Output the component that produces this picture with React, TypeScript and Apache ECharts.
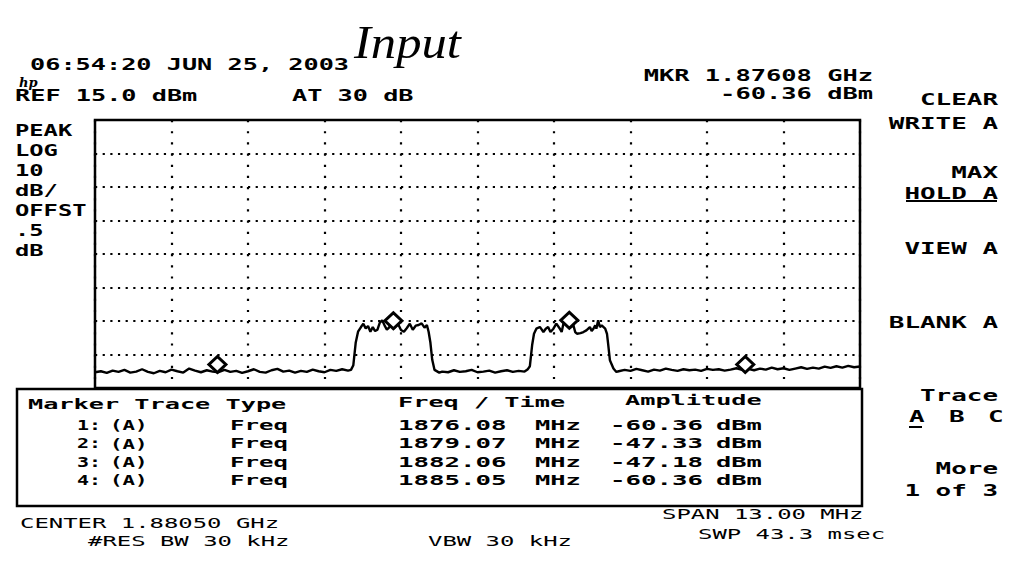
import React, { useEffect, useRef } from "react";
import * as echarts from "echarts";

// ---- instrument settings ----
const START_MHZ = 1874.0;
const SPAN_MHZ = 13.0;
const REF_DBM = 15.0;
const DB_PER_DIV = 10;
const Y_DIVS = 8;
const X_DIVS = 10;

// ---- trace (frequency MHz, level dBm) ----
const noiseLeft: [number, number][] = [
  [1874.0, -60.3], [1874.1, -60.0], [1874.2, -60.5], [1874.3, -59.8], [1874.4, -60.2],
  [1874.5, -59.6], [1874.6, -60.4], [1874.7, -60.1], [1874.8, -59.4], [1874.9, -60.2],
  [1875.0, -60.6], [1875.1, -59.9], [1875.2, -60.3], [1875.3, -59.5], [1875.4, -60.0],
  [1875.5, -60.4], [1875.6, -59.2], [1875.7, -59.8], [1875.8, -60.3], [1875.9, -59.7],
  [1876.0, -60.1], [1876.1, -60.3], [1876.2, -59.6], [1876.3, -60.2], [1876.4, -59.9],
  [1876.5, -60.5], [1876.6, -60.0], [1876.7, -59.4], [1876.8, -60.2], [1876.9, -60.4],
  [1877.0, -59.7], [1877.1, -59.3], [1877.2, -60.1], [1877.3, -59.8], [1877.4, -60.4],
  [1877.5, -59.9], [1877.6, -60.2], [1877.7, -59.5], [1877.8, -60.0], [1877.9, -60.3],
  [1878.0, -59.6], [1878.1, -59.9], [1878.2, -59.4], [1878.3, -59.8],
];
const channel1: [number, number][] = [
  [1878.35, -59.6], [1878.39, -58.2], [1878.43, -51.5], [1878.47, -48.2], [1878.52, -46.8],
  [1878.56, -45.8], [1878.60, -47.2], [1878.64, -46.5], [1878.68, -48.2], [1878.72, -46.8],
  [1878.76, -48.0], [1878.80, -47.6], [1878.84, -45.5], [1878.88, -44.8], [1878.92, -46.3],
  [1878.96, -47.6], [1879.00, -46.9], [1879.04, -45.5], [1879.07, -47.3], [1879.10, -46.8],
  [1879.15, -45.9], [1879.20, -47.7], [1879.25, -48.2], [1879.30, -47.1], [1879.35, -45.8],
  [1879.40, -47.6], [1879.45, -46.4], [1879.50, -46.2], [1879.55, -45.7], [1879.60, -47.0],
  [1879.64, -46.2], [1879.67, -48.3], [1879.70, -51.5], [1879.73, -56.5], [1879.77, -59.6],
];
const noiseMid: [number, number][] = [
  [1879.85, -60.4], [1879.9, -60.1], [1880.0, -60.3], [1880.1, -59.7], [1880.2, -60.2],
  [1880.3, -60.0], [1880.4, -59.6], [1880.5, -60.3], [1880.6, -60.1], [1880.7, -59.8],
  [1880.8, -60.4], [1880.9, -60.0], [1881.0, -59.7], [1881.1, -60.2], [1881.2, -59.9],
  [1881.3, -60.1], [1881.35, -59.5],
];
const channel2: [number, number][] = [
  [1881.39, -58.5], [1881.43, -52.0], [1881.46, -48.8], [1881.50, -47.3], [1881.56, -46.8],
  [1881.59, -47.5], [1881.62, -48.3], [1881.66, -47.3], [1881.70, -46.8], [1881.74, -48.3],
  [1881.79, -47.3], [1881.84, -45.8], [1881.90, -47.3], [1881.93, -48.3], [1881.96, -45.8],
  [1882.02, -45.2], [1882.06, -47.2], [1882.13, -46.3], [1882.16, -48.3], [1882.19, -48.8],
  [1882.25, -48.6], [1882.30, -48.3], [1882.35, -47.8], [1882.41, -46.8], [1882.44, -48.0],
  [1882.47, -47.3], [1882.50, -46.3], [1882.52, -47.3], [1882.55, -44.8], [1882.58, -46.8],
  [1882.61, -46.3], [1882.67, -47.3], [1882.70, -48.8], [1882.72, -51.8], [1882.75, -56.7],
  [1882.81, -59.2], [1882.86, -60.2],
];
const noiseRight: [number, number][] = [
  [1882.9, -60.0], [1883.0, -59.6], [1883.1, -59.9], [1883.2, -59.3], [1883.3, -59.7],
  [1883.4, -60.1], [1883.5, -59.5], [1883.6, -59.8], [1883.7, -59.2], [1883.8, -59.6],
  [1883.9, -59.9], [1884.0, -59.4], [1884.1, -59.7], [1884.2, -59.5], [1884.3, -59.9],
  [1884.4, -59.3], [1884.5, -59.6], [1884.6, -59.4], [1884.7, -59.8], [1884.8, -59.5],
  [1884.9, -59.1], [1885.0, -59.6], [1885.1, -59.3], [1885.2, -59.7], [1885.3, -59.2],
  [1885.4, -59.5], [1885.5, -58.9], [1885.6, -59.4], [1885.7, -59.1], [1885.8, -59.6],
  [1885.9, -59.2], [1886.0, -58.8], [1886.1, -59.3], [1886.2, -58.9], [1886.3, -59.2],
  [1886.4, -58.6], [1886.5, -59.0], [1886.6, -58.5], [1886.7, -58.9], [1886.8, -58.4],
  [1886.9, -58.8], [1887.0, -58.6],
];

// ---- markers ----
const markerFreqs = [1876.08, 1879.07, 1882.06, 1885.05];
const markerAmps = [-60.36, -47.33, -47.18, -60.36];

// ---- annotation texts ----
const leftLabels = ["PEAK", "LOG", "10", "dB/", "OFFST", ".5", "dB"];
const menuItems: { text: string; y: number; underline?: boolean }[] = [
  { text: "CLEAR", y: 100 },
  { text: "WRITE A", y: 124 },
  { text: "MAX", y: 173 },
  { text: "HOLD A", y: 194, underline: true },
  { text: "VIEW A", y: 249 },
  { text: "BLANK A", y: 323 },
  { text: "Trace", y: 396 },
  { text: "More", y: 469 },
  { text: "1 of 3", y: 491 },
];

const FONT = '"DejaVu Sans Mono", monospace';

function txt(
  text: string,
  x: number,
  yc: number,
  o: { fs?: number; pitch?: number; align?: string; z?: number; weight?: string } = {}
) {
  const fs = o.fs ?? 15;
  const pitch = o.pitch ?? 15.3;
  return {
    type: "text",
    x,
    y: yc,
    scaleX: pitch / (0.602 * fs),
    z: o.z ?? 120,
    style: {
      text,
      fill: "#000",
      fontFamily: FONT,
      fontSize: fs,
      fontWeight: o.weight ?? "bold",
      align: o.align ?? "left",
      verticalAlign: "middle",
    },
  };
}

function hline(x1: number, x2: number, y: number, w = 2) {
  return {
    type: "line",
    z: 120,
    shape: { x1, y1: y, x2, y2: y },
    style: { stroke: "#000", lineWidth: w },
  };
}

export default function App() {
  const ref = useRef<HTMLDivElement>(null);

  useEffect(() => {
    if (!ref.current) return;
    const chart = echarts.init(ref.current, undefined, { renderer: "svg" });

    const toXY = (p: [number, number]) => [(p[0] - START_MHZ) * 1000, p[1] - REF_DBM];
    const trace = [...noiseLeft, ...channel1, ...noiseMid, ...channel2, ...noiseRight].map(toXY);
    const markers = markerFreqs.map((f, i) => toXY([f, markerAmps[i]]));

    const gx = 95, gy = 120, gw = 765, gh = 268;

    const graphics: any[] = [];
    // header
    graphics.push(txt("06:54:20 JUN 25, 2003", 30, 64, { fs: 16, pitch: 15.2 }));
    graphics.push({
      type: "text", x: 19, y: 82, z: 120,
      style: { text: "hp", fill: "#000", fontFamily: "DejaVu Serif", fontStyle: "italic", fontWeight: "bold", fontSize: 13, align: "left", verticalAlign: "middle" },
    });
    graphics.push({
      type: "text", x: 354, y: 42, z: 120, scaleX: 1.1,
      style: { text: "Input", fill: "#000", fontFamily: "Liberation Serif", fontStyle: "italic", fontSize: 46, align: "left", verticalAlign: "middle" },
    });
    graphics.push(txt("REF 15.0 dBm", 15, 95, { fs: 16, pitch: 15.2 }));
    graphics.push(txt("AT 30 dB", 292, 95, { fs: 16, pitch: 15.2 }));
    graphics.push(txt("MKR 1.87608 GHz", 873, 75, { fs: 16, pitch: 15.3, align: "right" }));
    graphics.push(txt("-60.36 dBm", 873, 93, { fs: 16, pitch: 15.3, align: "right" }));

    // left labels
    leftLabels.forEach((s, i) => graphics.push(txt(s, 15, 131 + i * 20, { fs: 15.5, pitch: 14.3 })));

    // right menu
    menuItems.forEach((m) => {
      graphics.push(txt(m.text, 998, m.y, { fs: 15.5, pitch: 15.6, align: "right" }));
      if (m.underline) graphics.push(hline(906, 997, 201));
    });
    graphics.push(txt("A", 909, 417, { fs: 15.5, pitch: 15.6 }));
    graphics.push(txt("B", 949, 417, { fs: 15.5, pitch: 15.6 }));
    graphics.push(txt("C", 988, 417, { fs: 15.5, pitch: 15.6 }));
    graphics.push(hline(909, 922, 427));

    // marker table
    graphics.push({
      type: "rect", z: 100,
      shape: { x: 17, y: 389, width: 845, height: 117 },
      style: { fill: "#fff", stroke: "#000", lineWidth: 2.5 },
    });
    graphics.push(txt("Marker Trace Type", 28, 404, { fs: 14.5, pitch: 15.2 }));
    graphics.push(txt("Freq / Time", 398, 402, { fs: 14.5, pitch: 15.2 }));
    graphics.push(txt("Amplitude", 625, 400, { fs: 14.5, pitch: 15.2 }));
    markerFreqs.forEach((f, i) => {
      const y = 425 + i * 18.4;
      graphics.push(txt(`${i + 1}:`, 77, y, { fs: 14.5, pitch: 12 }));
      graphics.push(txt("(A)", 110, y, { fs: 14.5, pitch: 12.5 }));
      graphics.push(txt("Freq", 230, y, { fs: 14.5, pitch: 14.5 }));
      graphics.push(txt(f.toFixed(2), 398, y, { fs: 14.5, pitch: 15.5 }));
      graphics.push(txt("MHz", 535, y, { fs: 14.5, pitch: 15.3 }));
      graphics.push(txt(markerAmps[i].toFixed(2), 610, y, { fs: 14.5, pitch: 15.5 }));
      graphics.push(txt("dBm", 716, y, { fs: 14.5, pitch: 15.3 }));
    });

    // footer
    graphics.push(txt("CENTER 1.88050 GHz", 20, 523, { fs: 14.5, pitch: 14.4, weight: "normal" }));
    graphics.push(txt("#RES BW 30 kHz", 88, 541, { fs: 14.5, pitch: 14.4, weight: "normal" }));
    graphics.push(txt("VBW 30 kHz", 428, 541, { fs: 14.5, pitch: 14.4, weight: "normal" }));
    graphics.push(txt("SPAN 13.00 MHz", 662, 514, { fs: 14.5, pitch: 14.4, weight: "normal" }));
    graphics.push(txt("SWP 43.3 msec", 698, 534, { fs: 14.5, pitch: 14.4, weight: "normal" }));

    chart.setOption({
      animation: false,
      backgroundColor: "#fff",
      grid: {
        left: gx, top: gy, width: gw, height: gh,
        show: true, borderColor: "#000", borderWidth: 2.5, backgroundColor: "transparent",
      },
      xAxis: {
        type: "value",
        min: 0,
        max: SPAN_MHZ * 1000,
        interval: (SPAN_MHZ * 1000) / X_DIVS,
        axisLine: { show: false },
        axisTick: { show: false },
        axisLabel: { show: false },
        splitLine: { show: true, lineStyle: { color: "#000", width: 2.2, type: [2.2, 8.97] } },
      },
      yAxis: {
        type: "value",
        min: -DB_PER_DIV * Y_DIVS,
        max: 0,
        interval: DB_PER_DIV,
        axisLine: { show: false },
        axisTick: { show: false },
        axisLabel: { show: false },
        splitLine: { show: true, lineStyle: { color: "#000", width: 2.2, type: [2.2, 5.45] } },
      },
      graphic: graphics,
      series: [
        {
          type: "line",
          data: trace,
          symbol: "none",
          lineStyle: { color: "#000", width: 2.4 },
          z: 3,
        },
        {
          type: "scatter",
          data: markers,
          symbol: "diamond",
          symbolSize: [17, 16],
          symbolOffset: [0, -8],
          itemStyle: { color: "#fff", borderColor: "#000", borderWidth: 3, opacity: 1 },
          z: 5,
        },
      ],
    });

    return () => chart.dispose();
  }, []);

  return (
    <div
      ref={ref}
      style={{ position: "absolute", left: 0, top: 0, width: 1013, height: 568, background: "#fff" }}
    />
  );
}
